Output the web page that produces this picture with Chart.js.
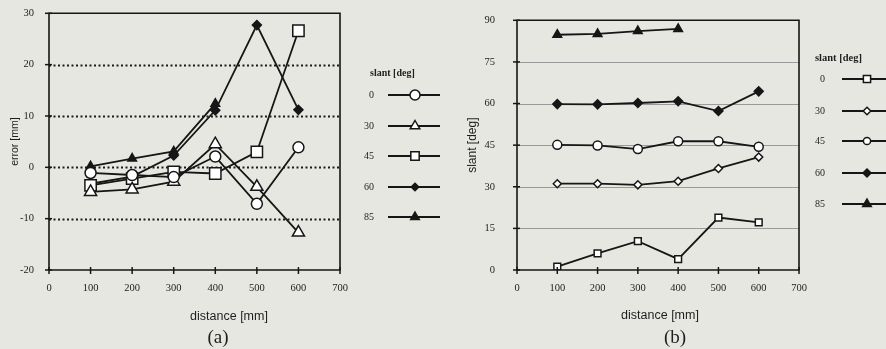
<!DOCTYPE html>
<html><head><meta charset="utf-8">
<script src="https://cdn.jsdelivr.net/npm/chart.js@4.4.1/dist/chart.umd.min.js"></script>
<style>
html,body{margin:0;padding:0;background:#e7e7e2;}
#wrap{position:relative;width:886px;height:349px;overflow:hidden;background:#e7e7e2;}
canvas{position:absolute;top:0;}
#ca{left:0;} #cb{left:443px;}
</style></head><body>
<div id="wrap"><canvas id="ca" width="443" height="349"></canvas><canvas id="cb" width="443" height="349"></canvas></div>
<script>
// ---- data ----
const distances = [100, 200, 300, 400, 500, 600];
const slantLabels = ['0', '30', '45', '60', '85'];
const xTickValues = [0, 100, 200, 300, 400, 500, 600, 700];
const errorTickValues = [-20, -10, 0, 10, 20, 30];
const slantTickValues = [0, 15, 30, 45, 60, 75, 90];

// (a) error [mm]
const errSlant0  = [-1.1, -1.5, -1.9, 2.1, -7.1, 3.9];
const errSlant30 = [-4.8, -4.3, -2.8, 4.5, -3.8, -12.7];
const errSlant45 = [-3.5, -2.2, -0.9, -1.2, 3.0, 26.6];
const errSlant60 = [-3.2, -1.8, 2.3, 11.1, 27.7, 11.2];
const errSlant85 = [0.2, 1.7, 3.1, 12.4, null, null];

// (b) measured slant [deg]
const slSlant0  = [1.2, 6.0, 10.4, 3.9, 18.9, 17.2];
const slSlant30 = [31.1, 31.1, 30.7, 32.0, 36.6, 40.7];
const slSlant45 = [45.1, 44.9, 43.6, 46.4, 46.4, 44.4];
const slSlant60 = [59.8, 59.7, 60.2, 60.8, 57.3, 64.4];
const slSlant85 = [84.8, 85.1, 86.1, 86.9, null, null];

const INK = '#161616';

function pts(vals){ return distances.map((d,i)=>({x:d, y:vals[i]})); }

function drawMarker(ctx, style, x, y, r, filled){
  ctx.beginPath();
  if (style === 'circle') { ctx.arc(x, y, r, 0, Math.PI*2); }
  else if (style === 'rect') { ctx.rect(x-r, y-r, 2*r, 2*r); }
  else if (style === 'rectRot') { ctx.moveTo(x, y-r); ctx.lineTo(x+r, y); ctx.lineTo(x, y+r); ctx.lineTo(x-r, y); ctx.closePath(); }
  else if (style === 'triangle') {
    ctx.moveTo(x, y-r); ctx.lineTo(x+r*0.866, y+r*0.5); ctx.lineTo(x-r*0.866, y+r*0.5); ctx.closePath();
  }
  ctx.fillStyle = filled ? INK : '#ffffff';
  ctx.fill();
  ctx.strokeStyle = INK; ctx.lineWidth = 1.5; ctx.setLineDash([]);
  ctx.stroke();
}

const framePlugin = {
  id: 'frame',
  beforeDatasetsDraw(chart, args, o){
    const {ctx, chartArea:a, scales:{x, y}} = chart;
    ctx.save();
    ctx.strokeStyle = o.gridColor; ctx.lineWidth = o.gridWidth; ctx.setLineDash(o.gridDash);
    y.ticks.forEach(t => {
      if (t.value === y.min || t.value === y.max) return;
      const py = Math.round(y.getPixelForValue(t.value)) + 0.5;
      ctx.beginPath(); ctx.moveTo(a.left, py); ctx.lineTo(a.right, py); ctx.stroke();
    });
    ctx.restore();
  },
  afterDatasetsDraw(chart, args, o){
    const {ctx, chartArea:a, scales:{x, y}} = chart;
    ctx.save();
    ctx.strokeStyle = INK; ctx.lineWidth = 1.6; ctx.setLineDash([]);
    ctx.beginPath();
    ctx.moveTo(a.left, a.top); ctx.lineTo(a.right, a.top); ctx.lineTo(a.right, a.bottom);
    ctx.lineTo(a.left, a.bottom); ctx.closePath(); ctx.stroke();
    ctx.lineWidth = 1.5;
    x.ticks.forEach(t => {
      const px = x.getPixelForValue(t.value);
      ctx.beginPath(); ctx.moveTo(px, a.bottom-3); ctx.lineTo(px, a.bottom+4); ctx.stroke();
    });
    y.ticks.forEach(t => {
      const py = y.getPixelForValue(t.value);
      ctx.beginPath(); ctx.moveTo(a.left-4, py); ctx.lineTo(a.left+3, py); ctx.stroke();
    });
    ctx.restore();
  },
  afterDraw(chart, args, o){
    const {ctx} = chart;
    ctx.save();
    ctx.fillStyle = '#1e1e1e';
    ctx.textAlign = 'center'; ctx.textBaseline = 'middle';
    ctx.font = o.xTitleFont;
    ctx.fillText(o.xTitle, o.xTitleX, o.xTitleY);
    ctx.font = '19px "Liberation Serif", serif';
    ctx.fillText(o.caption, o.captionX, o.captionY);
    const L = o.legend;
    ctx.font = L.titleFont; ctx.textAlign = 'left';
    ctx.fillText(L.title, L.titleX, L.titleY);
    ctx.font = L.labelFont; ctx.textAlign = 'right';
    chart.data.datasets.forEach((ds, i) => {
      const yy = L.ys[i];
      ctx.fillStyle = '#1e1e1e';
      ctx.fillText(ds.label, L.labelRight, yy);
      ctx.strokeStyle = INK; ctx.lineWidth = 1.8; ctx.setLineDash([]);
      ctx.beginPath(); ctx.moveTo(L.lineX0, yy); ctx.lineTo(L.lineX1, yy); ctx.stroke();
      drawMarker(ctx, ds.pointStyle, L.markerX, yy, L.radii[i], ds.pointBackgroundColor === INK);
    });
    ctx.restore();
  }
};

function ds(label, vals, style, r, filled){
  return {
    label, data: pts(vals), pointStyle: style, pointRadius: r, pointHoverRadius: r,
    borderColor: INK, borderWidth: 1.8, pointBorderColor: INK, pointBorderWidth: 1.5,
    pointBackgroundColor: filled ? INK : '#ffffff', backgroundColor: INK,
    showLine: true, spanGaps: false, tension: 0, fill: false
  };
}

const tickFont = {family: '"Liberation Serif", serif', size: 10.5};

function baseOptions(yMin, yMax, yTicks, yW, yPad, yTitle, yTitleFont, yTitlePad, rightPad, frameOpts){
  return {
    responsive: false, animation: false, events: [],
    layout: {padding: {top: 11, right: rightPad, bottom: 0, left: 0}},
    plugins: {legend: {display: false}, tooltip: {enabled: false}, frame: frameOpts},
    scales: {
      x: {type: 'linear', min: 0, max: 700,
          afterBuildTicks: s => { s.ticks = xTickValues.map(v => ({value: v})); },
          afterFit: s => { s.height = 79; },
          grid: {display: false}, border: {display: false},
          ticks: {font: tickFont, color: '#222', padding: 4, maxRotation: 0, autoSkip: false}},
      y: {type: 'linear', min: yMin, max: yMax,
          afterBuildTicks: s => { s.ticks = yTicks.map(v => ({value: v})); },
          afterFit: s => { s.width = yW; },
          grid: {display: false}, border: {display: false},
          title: {display: true, text: yTitle, font: yTitleFont, color: '#1e1e1e', padding: {top: yTitlePad, bottom: 0}},
          ticks: {font: tickFont, color: '#222', padding: yPad, autoSkip: false}}
    }
  };
}

new Chart(document.getElementById('ca'), {
  type: 'scatter',
  data: {datasets: [
    ds(slantLabels[0], errSlant0, 'circle', 5.5, false),
    ds(slantLabels[1], errSlant30, 'triangle', 7, false),
    ds(slantLabels[2], errSlant45, 'rect', 8, false),
    ds(slantLabels[3], errSlant60, 'rectRot', 4.5, true),
    ds(slantLabels[4], errSlant85, 'triangle', 5, true)
  ]},
  options: baseOptions(-20, 30, errorTickValues, 49, 7, 'error [mm]',
    {family: '"Liberation Sans", Arial, sans-serif', size: 10.5}, 9, 103,
    {gridColor: '#1a1a1a', gridWidth: 2, gridDash: [2, 2.5],
     xTitle: 'distance [mm]', xTitleX: 229, xTitleY: 317,
     xTitleFont: '12.5px "Liberation Sans", Arial, sans-serif',
     caption: '(a)', captionX: 218, captionY: 338,
     legend: {title: 'slant [deg]', titleX: 370, titleY: 73,
       titleFont: 'bold 10px "Liberation Serif", serif', labelFont: '10px "Liberation Serif", serif',
       labelRight: 374, lineX0: 388, lineX1: 440, markerX: 415,
       ys: [95, 126, 156, 187, 217], radii: [5, 5.5, 4.2, 3.8, 5]}}),
  plugins: [framePlugin]
});

new Chart(document.getElementById('cb'), {
  type: 'scatter',
  data: {datasets: [
    ds(slantLabels[0], slSlant0, 'rect', 4.8, false),
    ds(slantLabels[1], slSlant30, 'rectRot', 4, false),
    ds(slantLabels[2], slSlant45, 'circle', 4.5, false),
    ds(slantLabels[3], slSlant60, 'rectRot', 4.5, true),
    ds(slantLabels[4], slSlant85, 'triangle', 5, true)
  ]},
  options: baseOptions(0, 90, slantTickValues, 74, 14, 'slant [deg]',
    {family: '"Liberation Sans", Arial, sans-serif', size: 12}, 22, 87,
    {gridColor: '#9a9a9a', gridWidth: 1, gridDash: [],
     xTitle: 'distance [mm]', xTitleX: 217, xTitleY: 316,
     xTitleFont: '12.5px "Liberation Sans", Arial, sans-serif',
     caption: '(b)', captionX: 232, captionY: 338,
     legend: {title: 'slant [deg]', titleX: 372, titleY: 58,
       titleFont: 'bold 10.5px "Liberation Serif", serif', labelFont: '10px "Liberation Serif", serif',
       labelRight: 382, lineX0: 399, lineX1: 443, markerX: 424,
       ys: [79, 111, 141, 173, 204], radii: [3.6, 3.8, 3.6, 4, 5]}}),
  plugins: [framePlugin]
});
</script>
</body></html>
